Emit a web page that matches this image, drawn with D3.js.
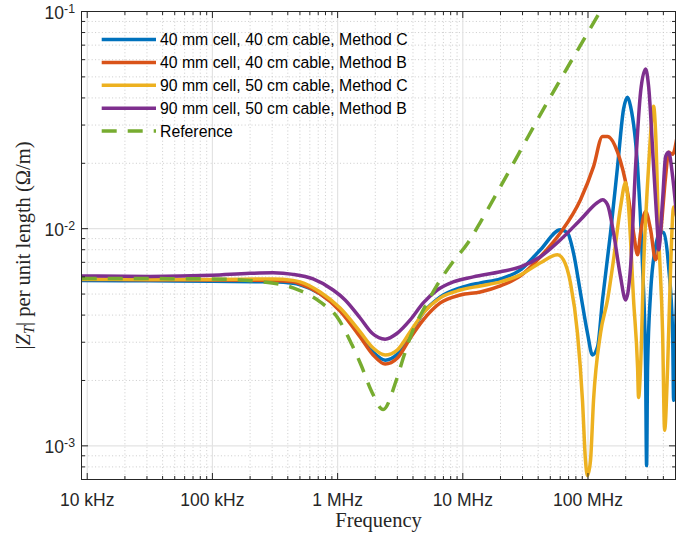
<!DOCTYPE html>
<html><head><meta charset="utf-8">
<script src="https://cdn.jsdelivr.net/npm/d3@7"></script>
<style>body{margin:0;background:#fff}</style>
</head><body><svg id="chart" width="688" height="537"></svg>
<script>
// ---- Data: frequency in MHz, |Z_T| in mOhm/m ----
const seriesNames = ["40 mm cell, 40 cm cable, Method C","40 mm cell, 40 cm cable, Method B","90 mm cell, 50 cm cable, Method C","90 mm cell, 50 cm cable, Method B","Reference"];
const seriesColors = ["#0072BD","#D95319","#EDB120","#7E2F8E","#77AC30"];

const blueF = [0.00904,0.0316,0.0991,0.3048,0.4406,0.5012,0.7244,1.047,1.514,1.923,2.399,2.992,3.802,4.831,6.607,9.550,13.80,19.95,28.84,41.69,60.26,68.55,76.56,87.10,99.08,108.6,119.1,130.6,151.4,172.2,192.3,207.0,218.8,248.9,272.9,288.4,293.8,299.2,316.2,346.7,380.2,401.8,440.6,474.2,483.1,501.2,510.5];
const blueZ = [5.77,5.75,5.72,5.69,5.60,5.51,5.01,4.22,3.24,2.70,2.48,2.64,3.27,4.09,4.85,5.34,5.63,5.87,6.46,8.00,9.89,9.58,7.74,5.06,3.30,2.62,2.85,4.70,9.58,19.3,35.5,40.3,36.6,19.3,6.67,2.30,0.811,2.30,5.06,8.26,9.68,9.58,6.67,3.30,1.62,3.30,5.22];

const orangeF = [0.00904,0.0316,0.0991,0.3048,0.4406,0.5012,0.7244,1.047,1.514,1.923,2.399,2.992,3.802,4.831,6.607,9.550,13.80,19.95,28.84,41.69,60.26,87.10,110.7,130.6,143.2,172.2,207.0,231.2,248.9,263.0,288.4,316.2,346.7,380.2,416.9,440.6,474.2,510.5];
const orangeZ = [5.84,5.82,5.81,5.78,5.69,5.57,5.01,4.18,3.17,2.62,2.38,2.53,3.13,3.80,4.55,4.95,5.11,5.45,6.06,7.43,9.58,13.6,19.3,26.6,26.6,22.5,14.7,9.58,7.58,9.58,12.0,9.89,7.19,9.58,17.4,22.5,22.0,25.8];

const yellowF = [0.00904,0.0316,0.0991,0.3048,0.4406,0.5012,0.7244,1.047,1.514,1.923,2.399,2.992,3.802,4.831,6.607,9.550,13.80,19.95,28.84,41.69,57.02,63.68,72.44,82.41,90.36,95.50,99.08,104.7,110.7,125.9,143.2,159.9,182.0,199.5,210.9,231.2,248.9,253.5,263.0,278.0,304.8,334.2,346.7,366.4,394.5,409.3,432.5,457.1,483.1,510.5];
const yellowZ = [5.85,5.84,5.84,5.87,5.78,5.69,5.11,4.31,3.35,2.82,2.62,2.76,3.35,4.09,4.80,5.22,5.45,5.69,6.13,6.97,7.58,7.19,5.63,3.30,1.62,0.855,0.729,0.855,1.62,3.30,4.70,7.19,12.6,16.3,12.6,4.70,2.30,1.67,2.30,6.67,19.3,36.6,27.8,9.58,3.30,1.18,2.30,6.67,12.6,11.4];

const purpleF = [0.00904,0.0316,0.0991,0.1995,0.3048,0.4406,0.637,0.9204,1.148,1.514,1.888,2.399,2.992,3.802,4.831,6.252,8.395,12.13,19.95,28.84,41.69,60.26,87.10,119.1,130.6,143.2,159.9,182.0,199.5,218.8,239.9,263.0,288.4,304.8,334.2,359.7,366.4,394.5,416.9,440.6,474.2,510.5];
const purpleZ = [6.06,6.03,6.10,6.23,6.26,6.16,5.87,5.22,4.70,3.88,3.30,3.10,3.30,3.80,4.55,5.22,5.69,6.00,6.33,6.67,7.43,8.89,11.0,13.2,13.6,12.9,9.58,6.00,4.70,6.67,19.3,42.5,54.3,45.3,19.3,9.58,7.99,13.6,21.5,22.5,17.4,11.4];

const greenF = [0.00904,0.0316,0.0991,0.240,0.4406,0.7244,0.9908,1.306,1.542,1.854,2.312,2.938,3.404,3.945,4.920,6.252,8.241,10.86,13.80,17.86,44.06,125.9,550];
const greenZ = [5.89,5.89,5.87,5.71,5.34,4.60,3.92,2.91,2.35,1.80,1.47,2.00,2.62,3.34,4.31,5.51,6.97,8.52,10.7,13.9,35.5,100.7,440];

const xTickValues = [1e4,1e5,1e6,1e7,1e8];
const xTickLabels = ["10 kHz","100 kHz","1 MHz","10 MHz","100 MHz"];
const yTickExponents = [-3,-2,-1];

// ---- Layout ----
const L=81.5, R=675.5, T=11.5, B=479.5;
const axisColor="#262626";
const svg=d3.select("#chart");
const x=d3.scaleLog().domain([9e3,5e8]).range([L,R]);
const y=d3.scaleLog().domain([7e-4,0.1]).range([B,T]);

// minor tick values
const xMinor=[], yMinor=[];
for(let d=3; d<=8; d++) for(let m=2;m<=9;m++){const v=m*Math.pow(10,d); if(v>9e3*1.0001 && v<5e8*0.9999) xMinor.push(v);}
for(let d=-4; d<=-2; d++) for(let m=2;m<=9;m++){const v=m*Math.pow(10,d); if(v>7e-4*1.0001 && v<0.1*0.9999) yMinor.push(v);}
const yMajor = yTickExponents.map(e=>Math.pow(10,e));

// grids
const grid=svg.append("g");
grid.selectAll(".mgx").data(xMinor).join("line").attr("x1",d=>x(d)).attr("x2",d=>x(d)).attr("y1",T).attr("y2",B)
  .attr("stroke","#c6c6c6").attr("stroke-width",0.9).attr("stroke-dasharray","1,2.4");
grid.selectAll(".mgy").data(yMinor).join("line").attr("y1",d=>y(d)).attr("y2",d=>y(d)).attr("x1",L).attr("x2",R)
  .attr("stroke","#c6c6c6").attr("stroke-width",0.9).attr("stroke-dasharray","1,2.4");
grid.selectAll(".Mgx").data(xTickValues).join("line").attr("x1",d=>x(d)).attr("x2",d=>x(d)).attr("y1",T).attr("y2",B)
  .attr("stroke","#e3e3e3").attr("stroke-width",1.2);
grid.selectAll(".Mgy").data(yMajor.filter(v=>v<0.099)).join("line").attr("y1",d=>y(d)).attr("y2",d=>y(d)).attr("x1",L).attr("x2",R)
  .attr("stroke","#e3e3e3").attr("stroke-width",1.2);

// clip
svg.append("clipPath").attr("id","clip").append("rect").attr("x",L).attr("y",T).attr("width",R-L).attr("height",B-T);

const series=[
  {f:blueF,z:blueZ},{f:orangeF,z:orangeZ},{f:yellowF,z:yellowZ},{f:purpleF,z:purpleZ},{f:greenF,z:greenZ}
];
const line=d3.line().x(d=>x(d[0])).y(d=>y(d[1])).curve(d3.curveMonotoneX);
const plot=svg.append("g").attr("clip-path","url(#clip)");
series.forEach((s,i)=>{
  const pts=s.f.map((f,j)=>[f*1e6, s.z[j]*1e-3]);
  plot.append("path").datum(pts).attr("d",line).attr("fill","none")
    .attr("stroke",seriesColors[i]).attr("stroke-width",3.5)
    .attr("stroke-linejoin","round")
    .attr("stroke-dasharray", i===4?"15,11":null);
});

// axes box and ticks
const ax=svg.append("g").attr("stroke",axisColor).attr("stroke-width",1);
ax.append("rect").attr("x",L).attr("y",T).attr("width",R-L).attr("height",B-T).attr("fill","none");
const tick=(v,len,isX)=>{
  if(isX){
    ax.append("line").attr("x1",x(v)).attr("x2",x(v)).attr("y1",B).attr("y2",B-len);
    ax.append("line").attr("x1",x(v)).attr("x2",x(v)).attr("y1",T).attr("y2",T+len);
  } else {
    ax.append("line").attr("y1",y(v)).attr("y2",y(v)).attr("x1",L).attr("x2",L+len);
    ax.append("line").attr("y1",y(v)).attr("y2",y(v)).attr("x1",R).attr("x2",R-len);
  }
};
xTickValues.forEach(v=>tick(v,6.5,true));
xMinor.forEach(v=>tick(v,3.5,true));
yMajor.forEach(v=>tick(v,6.5,false));
yMinor.forEach(v=>tick(v,3.5,false));

// tick labels
const lab=svg.append("g").attr("fill",axisColor).attr("font-family","'Liberation Sans', Arial, sans-serif");
lab.selectAll(".xl").data(xTickValues).join("text").attr("x",d=>x(d)).attr("y",505.5)
  .attr("text-anchor","middle").attr("font-size",17.5).text((d,i)=>xTickLabels[i]);
yTickExponents.forEach(e=>{
  const v=Math.pow(10,e);
  const t=lab.append("text").attr("x",75).attr("y",y(v)+7).attr("text-anchor","end").attr("font-size",17.5);
  t.append("tspan").text("10");
  t.append("tspan").attr("dy",-5.5).attr("font-size",12.3).text(String(e));
});

// axis labels
svg.append("text").attr("x",(L+R)/2).attr("y",527).attr("text-anchor","middle")
  .attr("font-family","'Liberation Serif', 'Times New Roman', serif").attr("font-size",20.5).attr("fill",axisColor).text("Frequency");
const yl=svg.append("text").attr("transform",`translate(30,${(T+B)/2}) rotate(-90)`).attr("text-anchor","middle")
  .attr("font-family","'Liberation Serif', 'Times New Roman', serif").attr("font-size",20.5).attr("fill",axisColor);
yl.append("tspan").text("|");
yl.append("tspan").attr("font-style","italic").text("Z");
yl.append("tspan").attr("font-style","italic").attr("font-size",14.5).attr("dy",4).text("T");
yl.append("tspan").attr("dy",-4).text("| per unit length (Ω/m)");

// legend
const lg=svg.append("g");
seriesNames.forEach((n,i)=>{
  const yy=39.5+i*22.9;
  lg.append("line").attr("x1",101.7).attr("x2",156).attr("y1",yy).attr("y2",yy)
    .attr("stroke",seriesColors[i]).attr("stroke-width",3.5).attr("stroke-dasharray",i===4?"15,11":null);
  lg.append("text").attr("x",160).attr("y",yy).attr("dy","0.36em").attr("font-size",15.8)
    .attr("font-family","'Liberation Sans', Arial, sans-serif").attr("fill","#000").text(n);
});
</script>
</body></html>
